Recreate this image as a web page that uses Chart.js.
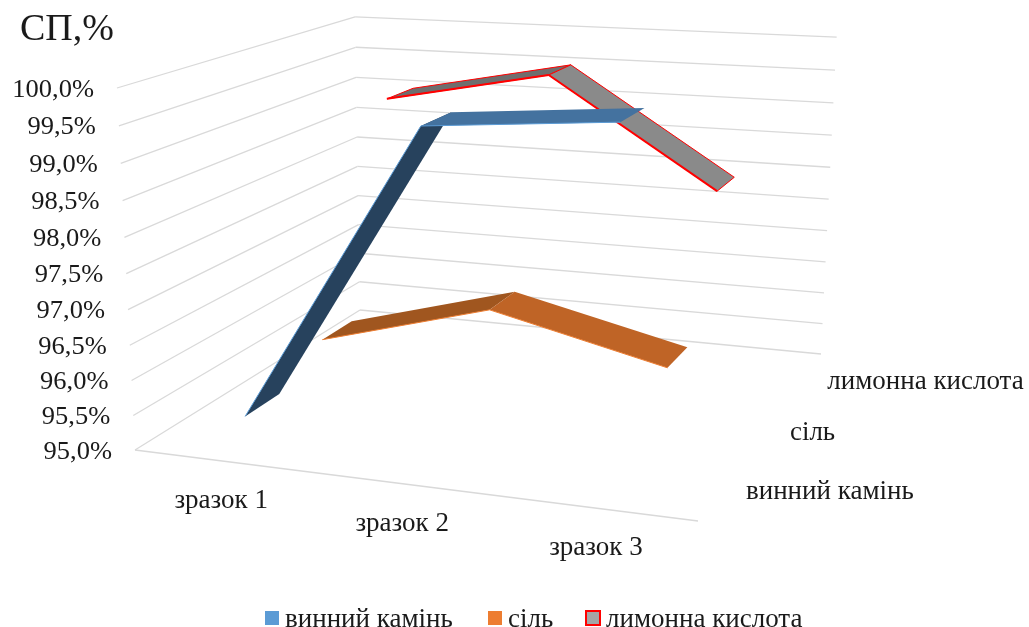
<!DOCTYPE html>
<html lang="uk">
<head>
<meta charset="utf-8">
<title>СП,%</title>
<script src="https://cdn.jsdelivr.net/npm/chart.js@4/dist/chart.umd.min.js"></script>
<style>
  html, body { margin: 0; padding: 0; background: #fff; }
  #chart { display: block; }
</style>
</head>
<body>
<canvas id="chart" width="1029" height="627"></canvas>
<script>
const samples = ["зразок 1", "зразок 2", "зразок 3"];
const seriesNames = ["винний камінь", "сіль", "лимонна кислота"];
const wineStone = [95.4, 99.6, 99.8];
const salt = [95.8, 96.5, 95.9];
const citricAcid = [99.0, 99.5, 97.9];
const valueTicks = [95, 95.5, 96, 96.5, 97, 97.5, 98, 98.5, 99, 99.5, 100];
const valueTickLabels = ["95,0%", "95,5%", "96,0%", "96,5%", "97,0%", "97,5%", "98,0%", "98,5%", "99,0%", "99,5%", "100,0%"];

const FONT = '"Liberation Serif", "Times New Roman", serif';
const GRID = "#d9d9d9";
const RIBBON_DEPTH = 0.14;
const LEGEND_BOX_X = [265, 488, 586];

// perspective box: u runs along the samples, v up the values, w back through the series
const box = {
  origin: [135, 450],
  uEnd: [698, 521],
  vEnd: [117, 88],
  wEnd: [360, 310],
  p: -0.0966,
  q: -0.05,
  r: 0.247
};

function project(u, v, w) {
  const d = 1 + box.p * u + box.q * v + box.r * w;
  return [0, 1].map((k) => {
    const o = box.origin[k];
    return (o +
      u * ((1 + box.p) * box.uEnd[k] - o) +
      v * ((1 + box.q) * box.vEnd[k] - o) +
      w * ((1 + box.r) * box.wEnd[k] - o)) / d;
  });
}

function line3d(ctx, a, b) {
  ctx.beginPath();
  ctx.moveTo(...project(...a));
  ctx.lineTo(...project(...b));
  ctx.stroke();
}

function label(ctx, text, x, y, size, align, stretch) {
  ctx.save();
  ctx.translate(x, y);
  ctx.scale(stretch || 1, 1);
  ctx.font = size + "px " + FONT;
  ctx.fillStyle = "#1a1a1a";
  ctx.textAlign = align;
  ctx.textBaseline = "middle";
  ctx.fillText(text, 0, 0);
  ctx.restore();
}

const box3d = {
  id: "box3d",
  beforeDatasetsDraw(chart) {
    const { ctx, scales } = chart;
    const { x: xs, y: ys, z: zs } = scales;
    const toU = (i) => (xs.getPixelForValue(i) - xs.left) / xs.width;
    const toV = (val) => (ys.bottom - ys.getPixelForValue(val)) / ys.height;
    const toW = (j) => (zs.getPixelForValue(j) - zs.left) / zs.width;

    ctx.save();

    // side wall, back wall and front floor edge
    ctx.strokeStyle = GRID;
    ctx.lineWidth = 1.3;
    valueTicks.forEach((t) => {
      const v = toV(t);
      line3d(ctx, [0, v, 0], [0, v, 1]);
      line3d(ctx, [0, v, 1], [1, v, 1]);
    });
    line3d(ctx, [0, 0, 0], [1, 0, 0]);

    // ribbons, furthest series first
    for (let j = chart.data.datasets.length - 1; j >= 0; j--) {
      const ds = chart.data.datasets[j];
      const w0 = toW(j) - RIBBON_DEPTH / 2;
      const w1 = toW(j) + RIBBON_DEPTH / 2;
      for (let i = 0; i < ds.data.length - 1; i++) {
        const a = [toU(i), toV(ds.data[i])];
        const b = [toU(i + 1), toV(ds.data[i + 1])];
        const quad = [
          project(a[0], a[1], w0),
          project(a[0], a[1], w1),
          project(b[0], b[1], w1),
          project(b[0], b[1], w0)
        ];
        ctx.beginPath();
        quad.forEach((pt, n) => (n ? ctx.lineTo(...pt) : ctx.moveTo(...pt)));
        ctx.closePath();
        ctx.fillStyle = ds.faceColors[i];
        ctx.fill();
        if (ds.outline) {
          ctx.strokeStyle = ds.edgeColor;
          ctx.lineWidth = 1;
          ctx.stroke();
        }
        ctx.strokeStyle = ds.edgeColor;
        ctx.lineWidth = ds.outline ? 2 : 1;
        ctx.beginPath();
        ctx.moveTo(...quad[0]);
        ctx.lineTo(...quad[3]);
        ctx.stroke();
      }
    }

    // axis text
    valueTicks.forEach((t, n) => {
      const [px, py] = project(0, toV(t), 0);
      label(ctx, valueTickLabels[n], px - 23, py + 2, 25, "right", 1.06);
    });
    samples.forEach((s, i) => {
      const [px, py] = project(toU(i), 0, 0);
      label(ctx, s, px, py + 40, 27, "center");
    });
    seriesNames.forEach((s, j) => {
      const [px, py] = project(1, 0, toW(j));
      label(ctx, s, px + 23, py + 5, 27, "left");
    });
    label(ctx, "СП,%", 20, 30, 38, "left");

    // legend row under the plot
    chart.data.datasets.forEach((ds, j) => {
      const bx = LEGEND_BOX_X[j];
      ctx.fillStyle = ds.backgroundColor;
      ctx.fillRect(bx, 611, 14, 14);
      if (ds.outline) {
        ctx.strokeStyle = ds.borderColor;
        ctx.lineWidth = 2;
        ctx.strokeRect(bx, 611, 14, 14);
      }
      label(ctx, ds.label, bx + 20, 620, 27, "left");
    });

    ctx.restore();
  }
};

new Chart(document.getElementById("chart"), {
  type: "line",
  data: {
    labels: samples,
    datasets: [
      {
        label: seriesNames[0],
        data: wineStone,
        backgroundColor: "#5b9bd5",
        borderColor: "#5b9bd5",
        edgeColor: "#5b9bd5",
        faceColors: ["#27425d", "#44729f"]
      },
      {
        label: seriesNames[1],
        data: salt,
        backgroundColor: "#ed7d31",
        borderColor: "#ed7d31",
        edgeColor: "#ed7d31",
        faceColors: ["#a0561f", "#bf6426"]
      },
      {
        label: seriesNames[2],
        data: citricAcid,
        backgroundColor: "#a5a5a5",
        borderColor: "#ff0000",
        edgeColor: "#ff0000",
        outline: true,
        faceColors: ["#6e6e6e", "#8a8a8a"]
      }
    ]
  },
  options: {
    responsive: false,
    animation: false,
    showLine: false,
    scales: {
      x: { type: "category", offset: true, display: false },
      y: { type: "linear", min: 95, max: 100, display: false },
      z: { type: "category", axis: "x", labels: seriesNames, offset: true, display: false }
    },
    elements: { point: { radius: 0 }, line: { borderWidth: 0 } },
    plugins: {
      title: { display: false },
      tooltip: { enabled: false },
      legend: { display: false }
    }
  },
  plugins: [box3d]
});
</script>
</body>
</html>
